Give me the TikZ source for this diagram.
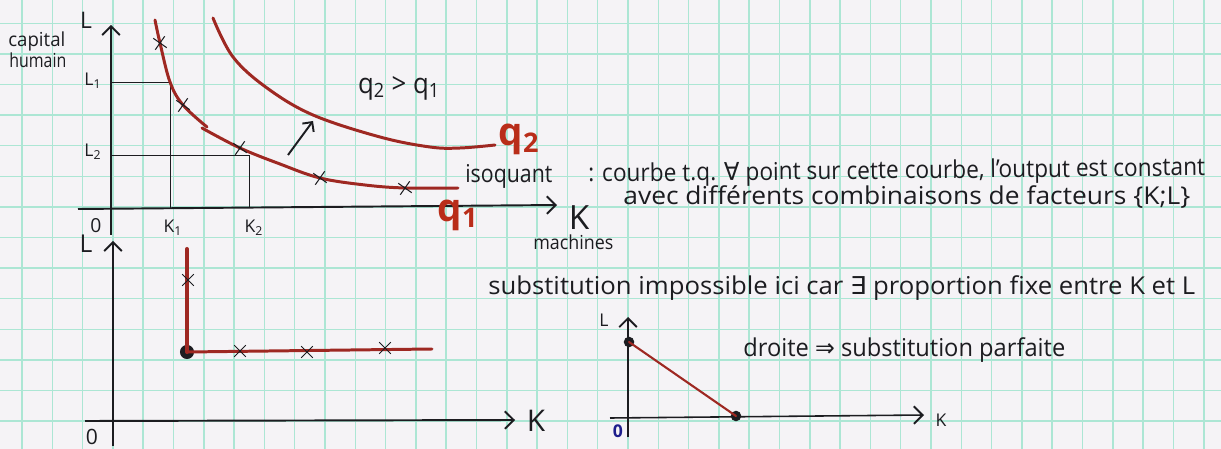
\documentclass[tikz,border=0pt]{standalone}
\usepackage{fontspec}
\setmainfont{Open Sans}
\newfontfamily\dvs{DejaVu Sans}
\usetikzlibrary{arrows.meta,shapes.misc}
\definecolor{paper}{RGB}{245,243,246}
\definecolor{gridc}{RGB}{172,230,212}
\definecolor{inkc}{RGB}{28,28,32}
\definecolor{redc}{RGB}{158,40,34}
\definecolor{redl}{RGB}{185,45,25}
\definecolor{bluec}{RGB}{30,30,140}
\newcommand\hw[2]{\resizebox{#1}{\height}{#2}}
\tikzset{
  ink/.style={draw=inkc, line width=1.1pt},
  axis/.style={ink, -{Straight Barb[length=5pt,width=10pt,line width=1.1pt]}},
  guide/.style={draw=inkc, line width=0.5pt},
  redcurve/.style={draw=redc, line width=1.7pt, line cap=round},
  xmark/.style={cross out, draw=inkc, line width=0.6pt, minimum size=6pt, inner sep=0pt},
  dotnode/.style={circle, fill=inkc, inner sep=0pt, minimum size=8pt},
  txt/.style={inkc, inner sep=0pt, font=\fontsize{14}{16}\selectfont},
  lab/.style={inkc, inner sep=0pt},
  qlab/.style={redl, inner sep=0pt, font=\fontsize{22}{24}\selectfont\bfseries},
}
\begin{document}
\begin{tikzpicture}[x=0.02cm,y=-0.02cm]
\useasboundingbox (0,0) rectangle (1221,449);
\fill[paper] (0,0) rectangle (1221,449);
\foreach \i in {0,...,39} \draw[gridc, line width=0.9pt] ({22+30.3*\i},0) -- ({22+30.3*\i},449);
\foreach \j in {0,...,13} \draw[gridc, line width=0.9pt] (0,{23.3+30.6*\j}) -- (1221,{23.3+30.6*\j});

% ---------- top chart ----------
\coordinate (ya1) at (111,235);
\coordinate (yb1) at (111,25);
\coordinate (xa1) at (78,209);
\coordinate (xb1) at (557,205);
\draw[axis] (ya1) -- (yb1);
\draw[axis] (xa1) -- (xb1);
\node[lab, font=\fontsize{13}{14}\selectfont] (L) at (86,20) {L};
\node[lab, anchor=base west] (cap) at (8,47) {\hw{1.14cm}{\fontsize{11}{12}\selectfont capital}};
\node[lab, anchor=base west] (hum) at (9,68) {\hw{1.14cm}{\fontsize{11}{12}\selectfont humain}};
\node[lab, font=\fontsize{10}{12}\selectfont] (L1) at (93,81) {L\textsubscript{1}};
\node[lab, font=\fontsize{10}{12}\selectfont] (L2) at (93,152) {L\textsubscript{2}};
\node[lab, font=\fontsize{11}{12}\selectfont] (O1) at (96,226) {0};
\node[lab, font=\fontsize{10}{12}\selectfont] (K1) at (173,228) {K\textsubscript{1}};
\node[lab, font=\fontsize{10}{12}\selectfont] (K2) at (254,228) {K\textsubscript{2}};
\node[lab, font=\fontsize{19}{20}\selectfont] (K) at (579,218) {K};
\node[lab, anchor=base west] (mach) at (533,250) {\hw{1.6cm}{\fontsize{11}{12}\selectfont machines}};

\coordinate (g1a) at (111,82);
\coordinate (g1b) at (170,82);
\coordinate (g1c) at (170,208);
\coordinate (g2a) at (111,155);
\coordinate (g2b) at (249,155);
\coordinate (g2c) at (249,208);
\draw[guide] (g1a) -- (g1b) -- (g1c);
\draw[guide] (g2a) -- (g2b) -- (g2c);

\draw[redcurve] plot[smooth, tension=0.6] coordinates {(155,20) (160,43) (170,82) (183,105) (207,127)};
\draw[redcurve] plot[smooth, tension=0.6] coordinates {(202,128) (240,148) (280,164) (320,178) (365,185) (405,188) (458,188)};
\draw[redcurve] plot[smooth, tension=0.6] coordinates {(213,18) (233,57) (267,88) (313,115) (380,137) (430,147) (460,148) (495,145)};

\node[xmark, rotate=10] (m1) at (160,43) {};
\node[xmark, rotate=10] (m2) at (183,105) {};
\node[xmark, rotate=10] (m3) at (240,148) {};
\node[xmark, rotate=10] (m4) at (320,178) {};
\node[xmark, rotate=10] (m5) at (405,188) {};

\coordinate (ar1) at (288,155);
\coordinate (ar2) at (313,121);
\draw[ink, -{Straight Barb[length=4pt,width=8pt,line width=1.1pt]}] (ar1) -- (ar2);

\node[lab, font=\fontsize{16}{18}\selectfont] (qq) at (399,88) {\hw{1.64cm}{q\textsubscript{2} > q\textsubscript{1}}};
\node[qlab] (q2) at (519,139) {q\textsubscript{2}};
\node[qlab] (q1) at (458,215) {q\textsubscript{1}};

\node[txt, anchor=base west] (iso) at (465,183) {\hw{1.74cm}{isoquant}};
\node[txt, anchor=base west, rotate=0.6] (def1) at (588,182) {\hw{12.34cm}{: courbe t.q. {\dvs ∀} point sur cette courbe, l'output est constant}};
\node[txt, anchor=base west] (def2) at (623,205) {\hw{11.34cm}{avec différents combinaisons de facteurs \{K;L\}}};

% ---------- bottom-left chart ----------
\coordinate (ya2) at (113,446);
\coordinate (yb2) at (113,241);
\coordinate (xa2) at (85,421);
\coordinate (xb2) at (515,420);
\draw[axis] (ya2) -- (yb2);
\draw[axis] (xa2) -- (xb2);
\node[lab, font=\fontsize{14}{16}\selectfont] (Lb) at (86,244) {L};
\node[lab, font=\fontsize{12}{14}\selectfont] (Ob) at (92,437) {0};
\node[lab, font=\fontsize{17}{18}\selectfont] (Kb) at (536,421) {K};
\coordinate (v1) at (187,249);
\node[dotnode] (corner) at (187,352) {};
\coordinate (h2) at (432,349);
\draw[redcurve, line width=2.3pt] (v1) -- (corner.center);
\draw[redcurve] (corner.center) -- (h2);
\node[xmark] (n1) at (188,280) {};
\node[xmark] (n2) at (240,351) {};
\node[xmark] (n3) at (307,352) {};
\node[xmark] (n4) at (385,348) {};

\node[txt, anchor=base west] (subst) at (488,295) {\hw{14.14cm}{substitution impossible ici car {\dvs ∃} proportion fixe entre K et L}};

% ---------- bottom-right chart ----------
\coordinate (ya3) at (628,437);
\coordinate (yb3) at (628,317);
\coordinate (xa3) at (610,418);
\coordinate (xb3) at (924,415);
\draw[axis, line width=0.9pt] (ya3) -- (yb3);
\draw[axis, line width=0.9pt] (xa3) -- (xb3);
\node[lab, font=\fontsize{10}{12}\selectfont] (Lc) at (604,320) {L};
\node[lab, font=\fontsize{10}{12}\selectfont\bfseries, bluec] (Oc) at (618,431) {0};
\node[lab, font=\fontsize{10}{12}\selectfont] (Kc) at (941,420) {K};
\node[dotnode, minimum size=6pt] (pa) at (629,342) {};
\node[dotnode, minimum size=6pt] (pb) at (736,416) {};
\draw[redcurve, line width=1.2pt] (pa.center) -- (pb.center);
\node[txt, anchor=base west] (droite) at (743,357) {\hw{6.44cm}{droite {\dvs ⇒} substitution parfaite}};
\end{tikzpicture}
\end{document}
